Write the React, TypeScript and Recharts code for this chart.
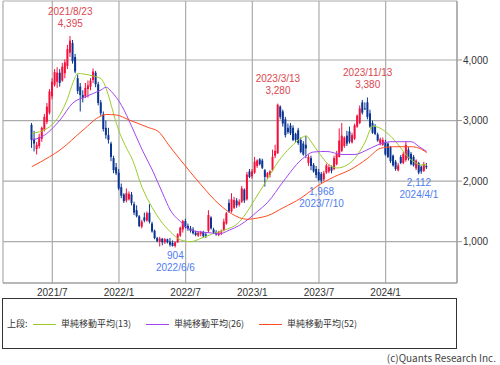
import {
  Bar,
  CartesianGrid,
  ComposedChart,
  Line,
  ReferenceArea,
  ReferenceDot,
  XAxis,
  YAxis,
} from 'recharts'

// weekly candles, week 0 = 2021/7/5, first candle = 2021/5/10
const firstWeek = -8

// [open, high, low, close]
const ohlc: [number, number, number, number][] = [
  [2930, 2960, 2550, 2680], [2700, 2830, 2490, 2620], [2530, 2650, 2440, 2600], [2580, 2780, 2540, 2730],
  [2700, 2900, 2650, 2880], [2850, 3110, 2820, 3060], [2980, 3290, 2940, 3230], [3130, 3520, 3100, 3480],
  // 2021/7
  [3400, 3700, 3350, 3640], [3590, 3850, 3560, 3800], [3640, 3880, 3540, 3790], [3790, 3850, 3560, 3620],
  [3660, 3950, 3640, 3890], [3780, 4010, 3700, 3960], [3900, 4250, 3850, 4180], [4120, 4395, 4050, 4320],
  [4280, 4330, 3940, 3980], [4050, 4100, 3780, 3810], [3700, 3760, 3440, 3490], [3560, 3620, 3150, 3420],
  [3420, 3500, 3300, 3370], [3400, 3620, 3370, 3540], [3520, 3660, 3380, 3580], [3560, 3700, 3500, 3660],
  [3670, 3860, 3620, 3810], [3790, 3820, 3550, 3600], [3600, 3640, 3250, 3290], [3300, 3340, 3080, 3120],
  [3100, 3150, 2820, 2860], [2880, 3000, 2700, 2760], [2760, 2880, 2620, 2680], [2620, 2650, 2330, 2400],
  [2380, 2420, 2130, 2180], [2230, 2300, 2100, 2130],
  // 2022/1
  [2140, 2200, 1850, 1880], [1900, 1960, 1720, 1760], [1780, 1800, 1640, 1670], [1680, 1880, 1650, 1800],
  [1700, 1830, 1680, 1790], [1780, 1820, 1600, 1640], [1620, 1660, 1440, 1480], [1520, 1600, 1400, 1420],
  [1420, 1440, 1240, 1260], [1250, 1360, 1220, 1330], [1400, 1480, 1320, 1350], [1350, 1500, 1330, 1470],
  [1480, 1620, 1300, 1330], [1300, 1330, 1150, 1170], [1180, 1200, 1040, 1060], [1060, 1080, 990, 1010],
  [1000, 1080, 920, 1050], [1050, 1060, 940, 990], [990, 1060, 960, 1040], [1040, 1050, 970, 990],
  [1000, 1060, 920, 950], [980, 1020, 920, 930], [930, 1000, 904, 990], [990, 1140, 980, 1120],
  [1100, 1250, 1080, 1230], [1200, 1360, 1150, 1340],
  // 2022/7
  [1340, 1380, 1220, 1240], [1260, 1300, 1180, 1210], [1220, 1260, 1150, 1180], [1200, 1240, 1120, 1140],
  [1150, 1180, 1090, 1110], [1100, 1170, 1080, 1150], [1130, 1180, 1090, 1160], [1160, 1180, 1060, 1090],
  [1120, 1160, 1060, 1100], [1180, 1520, 1150, 1440], [1400, 1420, 1200, 1220], [1200, 1230, 1130, 1150],
  [1160, 1190, 1100, 1120], [1110, 1180, 1090, 1150], [1150, 1200, 1110, 1170], [1190, 1380, 1170, 1330],
  [1300, 1490, 1280, 1470], [1640, 1700, 1480, 1500], [1500, 1800, 1480, 1700], [1560, 1740, 1540, 1690],
  [1680, 1720, 1560, 1600], [1610, 1700, 1580, 1660], [1660, 1920, 1640, 1880], [1860, 1880, 1640, 1680],
  [1700, 2150, 1680, 2110], [2160, 2200, 2050, 2070],
  // 2023/1
  [2080, 2200, 2040, 2160], [2140, 2400, 2120, 2320], [2250, 2360, 2220, 2340], [2360, 2380, 2260, 2280],
  [2340, 2370, 2200, 2220], [2180, 2200, 1910, 2070], [2070, 2150, 2040, 2130], [2100, 2180, 2060, 2160],
  [2180, 2520, 2160, 2400], [2420, 2600, 2380, 2500], [2460, 3280, 2450, 3260], [3230, 3250, 3020, 3060],
  [3150, 3180, 2900, 2950], [3020, 3060, 2720, 2760], [2880, 2950, 2780, 2810], [2920, 2960, 2760, 2790],
  [2880, 2920, 2660, 2680], [2780, 2800, 2640, 2680], [2840, 2880, 2600, 2630], [2680, 2720, 2460, 2480],
  [2620, 2660, 2420, 2440], [2600, 2750, 2380, 2540], [2300, 2440, 2250, 2400], [2380, 2420, 2180, 2250],
  [2270, 2300, 2140, 2160], [2200, 2250, 2050, 2100],
  // 2023/7
  [2150, 2200, 2000, 2020], [2120, 2150, 1968, 2010], [2030, 2170, 2000, 2130], [2140, 2290, 2120, 2260],
  [2160, 2280, 2130, 2230], [2240, 2260, 2130, 2170], [2200, 2420, 2180, 2380], [2280, 2500, 2260, 2450],
  [2400, 2870, 2390, 2670], [2500, 2960, 2480, 2750], [2580, 2740, 2550, 2720], [2750, 2830, 2580, 2620],
  [2820, 2900, 2620, 2650], [2640, 2800, 2620, 2760], [2700, 2950, 2680, 2920], [2900, 3100, 2880, 3080],
  [2960, 3250, 2940, 3200], [3300, 3340, 3100, 3130], [3200, 3300, 3180, 3190], [3300, 3380, 3020, 3060],
  [3120, 3180, 2880, 2900], [2960, 3000, 2780, 2800], [2900, 2940, 2760, 2780], [2770, 2800, 2650, 2670],
  [2620, 2720, 2590, 2690], [2600, 2720, 2580, 2680],
  // 2024/1
  [2640, 2680, 2420, 2440], [2620, 2640, 2380, 2400], [2560, 2580, 2300, 2330], [2420, 2440, 2240, 2260],
  [2320, 2350, 2170, 2200], [2180, 2300, 2160, 2260], [2400, 2430, 2280, 2300], [2300, 2480, 2280, 2450],
  [2350, 2650, 2320, 2600], [2520, 2560, 2340, 2380], [2450, 2480, 2260, 2280], [2400, 2430, 2240, 2260],
  [2210, 2360, 2180, 2340], [2300, 2320, 2112, 2140], [2240, 2260, 2120, 2160], [2170, 2320, 2150, 2280],
  [2250, 2300, 2200, 2230],
]

const ma13Weeks = [-8, -4, -1, 3, 6, 8, 10, 12, 16, 19, 21, 23, 25, 29, 31, 35, 39, 42, 46, 50, 54, 58, 62, 65, 69, 72, 74, 77, 79, 83, 88, 93, 97, 99, 101, 104, 108, 111, 115, 119, 122, 125, 128, 131, 135, 138, 141, 144, 146]
const ma13Values = [2790, 2830, 2900, 3100, 3370, 3620, 3780, 3770, 3735, 3690, 3530, 3250, 2950, 2540, 2380, 1900, 1560, 1360, 1165, 1030, 1000, 1055, 1120, 1165, 1220, 1290, 1380, 1560, 1700, 1970, 2316, 2563, 2712, 2745, 2646, 2465, 2266, 2217, 2266, 2432, 2646, 2910, 2870, 2780, 2597, 2432, 2320, 2266, 2270]

const ma26Weeks = [-8, -4, 3, 8, 13, 19, 21, 23, 27, 31, 35, 39, 43, 46, 50, 54, 58, 62, 65, 69, 73, 77, 80, 84, 90, 97, 102, 107, 113, 118, 122, 127, 132, 140, 143, 146]
const ma26Values = [2680, 2734, 3009, 3290, 3394, 3505, 3550, 3480, 3250, 2900, 2520, 2184, 1800, 1524, 1330, 1193, 1160, 1145, 1127, 1190, 1270, 1391, 1500, 1650, 1990, 2349, 2481, 2490, 2440, 2440, 2500, 2600, 2651, 2651, 2570, 2490]

const ma52Weeks = [-8, -1, 3, 12, 19, 21, 25, 30, 38, 41, 46, 50, 58, 65, 70, 76, 80, 84, 90, 97, 103, 110, 116, 123, 128, 133, 140, 144, 146]
const ma52Values = [2238, 2404, 2514, 2844, 3075, 3100, 3092, 3009, 2877, 2830, 2563, 2349, 1940, 1620, 1460, 1370, 1390, 1430, 1560, 1720, 1908, 2073, 2184, 2377, 2542, 2568, 2568, 2525, 2470]

const xTicks = [0, 26, 52, 78, 104, 130]
const xTickLabels = ['2021/7', '2022/1', '2022/7', '2023/1', '2023/7', '2024/1']
const yTicks = [1000, 2000, 3000, 4000]

const highMarks = [
  { week: 7, date: '2021/8/23', price: 4395 },
  { week: 88, date: '2023/3/13', price: 3280 },
  { week: 123, date: '2023/11/13', price: 3380 },
]
const lowMarks = [
  { week: 48, date: '2022/6/6', price: 904 },
  { week: 105, date: '2023/7/10', price: 1968 },
  { week: 143, date: '2024/4/1', price: 2112 },
]

const series = [
  { name: '単純移動平均(13)', color: '#9ccc2c', weeks: ma13Weeks, values: ma13Values },
  { name: '単純移動平均(26)', color: '#a345f2', weeks: ma26Weeks, values: ma26Values },
  { name: '単純移動平均(52)', color: '#ff4b1f', weeks: ma52Weeks, values: ma52Values },
]

const FONT = "'Noto Sans CJK JP', 'Noto Sans', sans-serif"
const NUM_FONT = "'Liberation Sans', Arial, sans-serif"
const UP = '#f5103c'
const DOWN = '#0b3592'
const GRID = '#ababab'

const rows = ohlc.map(([o, h, l, c], i) => ({ w: firstWeek + i, range: [l, h], o, h, l, c }))

const Candle = (props: any) => {
  const { x, y, width, height, payload } = props
  if (!payload || height == null) return null
  const { o, h, l, c } = payload
  const color = c >= o ? UP : DOWN
  const cx = x + width / 2
  const k = height / (h - l)
  const yO = y + (h - o) * k
  const yC = y + (h - c) * k
  const top = Math.min(yO, yC)
  const bh = Math.max(Math.abs(yO - yC), 1)
  return (
    <g>
      <line x1={cx} x2={cx} y1={y} y2={y + height} stroke={color} strokeWidth={1} />
      <rect x={cx - 1} y={top} width={2} height={bh} fill={color} />
    </g>
  )
}

const XTick = ({ x, y, payload }: any) => (
  <text x={x} y={y + 12.5} textAnchor="middle" fontSize={10} fontFamily={NUM_FONT} fill="#333">
    {xTickLabels[xTicks.indexOf(payload.value)]}
  </text>
)

const YTick = ({ x, y, payload }: any) => (
  <text x={x} y={y + 3.6} textAnchor="start" fontSize={10} fontFamily={NUM_FONT} fill="#333">
    {payload.value.toLocaleString('en-US')}
  </text>
)

const markLabel = (date: string, price: number, high: boolean) => (props: any) => {
  const vb = props.viewBox
  const cx = vb.x + vb.width / 2
  const cy = vb.y + vb.height / 2
  const color = high ? '#dc4650' : '#4f7df0'
  const first = high ? cy - 21.5 : cy + 11.5
  const second = high ? cy - 9.5 : cy + 23.5
  return (
    <g fontSize={10} fontFamily={NUM_FONT} fill={color} textAnchor="middle">
      <text x={cx} y={first}>{high ? date : price.toLocaleString('en-US')}</text>
      <text x={cx} y={second}>{high ? price.toLocaleString('en-US') : date}</text>
    </g>
  )
}

const App = () => {
  return (
    <div style={{ position: 'absolute', left: 0, top: 0, width: 500, height: 365, background: '#fff' }}>
      <ComposedChart width={500} height={300} data={rows} margin={{ top: 1, left: 3, right: 0, bottom: 0 }}>
        <CartesianGrid stroke={GRID} strokeWidth={1.2} />
        <XAxis
          dataKey="w"
          type="number"
          domain={[-19.23, 157.83]}
          allowDataOverflow
          ticks={xTicks}
          interval={0}
          height={17}
          tickLine={false}
          tickSize={0}
          tickMargin={0}
          axisLine={{ stroke: '#999' }}
          tick={<XTick />}
        />
        <YAxis
          orientation="right"
          type="number"
          domain={[318, 4974]}
          allowDataOverflow
          ticks={yTicks}
          interval={0}
          width={43}
          tickSize={5}
          tickMargin={1}
          axisLine={{ stroke: '#999' }}
          tickLine={{ stroke: '#999' }}
          tick={<YTick />}
        />
        <ReferenceArea fill="none" stroke="#999" />
        {series.map((s) => (
          <Line
            key={s.name}
            data={s.weeks.map((w, i) => ({ w, v: s.values[i] }))}
            dataKey="v"
            type="monotone"
            stroke={s.color}
            strokeWidth={1}
            dot={false}
            activeDot={false}
            isAnimationActive={false}
          />
        ))}
        <Bar dataKey="range" barSize={2} shape={<Candle />} isAnimationActive={false} />
        {highMarks.map((m) => (
          <ReferenceDot
            key={m.date}
            x={m.week}
            y={m.price}
            r={1}
            fill="none"
            stroke="none"
            label={markLabel(m.date, m.price, true)}
          />
        ))}
        {lowMarks.map((m) => (
          <ReferenceDot
            key={m.date}
            x={m.week}
            y={m.price}
            r={1}
            fill="none"
            stroke="none"
            label={markLabel(m.date, m.price, false)}
          />
        ))}
      </ComposedChart>
      <div
        style={{
          position: 'absolute',
          left: 2,
          top: 298,
          width: 455,
          height: 51,
          boxSizing: 'border-box',
          border: '1px solid #333',
          fontFamily: FONT,
          fontSize: 9,
          lineHeight: '12px',
          color: '#333',
        }}
      >
        <span style={{ position: 'absolute', left: 4, top: 19 }}>上段:</span>
        {series.map((s, i) => (
          <span key={s.name} style={{ position: 'absolute', left: 30 + i * 113, top: 19, whiteSpace: 'nowrap' }}>
            <span
              style={{
                display: 'inline-block',
                width: 23,
                height: 0,
                borderTop: `1px solid ${s.color}`,
                verticalAlign: 'middle',
                marginRight: 5,
              }}
            />
            {s.name}
          </span>
        ))}
      </div>
      <div
        style={{
          position: 'absolute',
          right: 4,
          top: 352,
          fontFamily: FONT,
          fontSize: 10,
          lineHeight: '12px',
          color: '#444',
          whiteSpace: 'nowrap',
        }}
      >
        (c)Quants Research Inc.
      </div>
    </div>
  )
}

export default App
